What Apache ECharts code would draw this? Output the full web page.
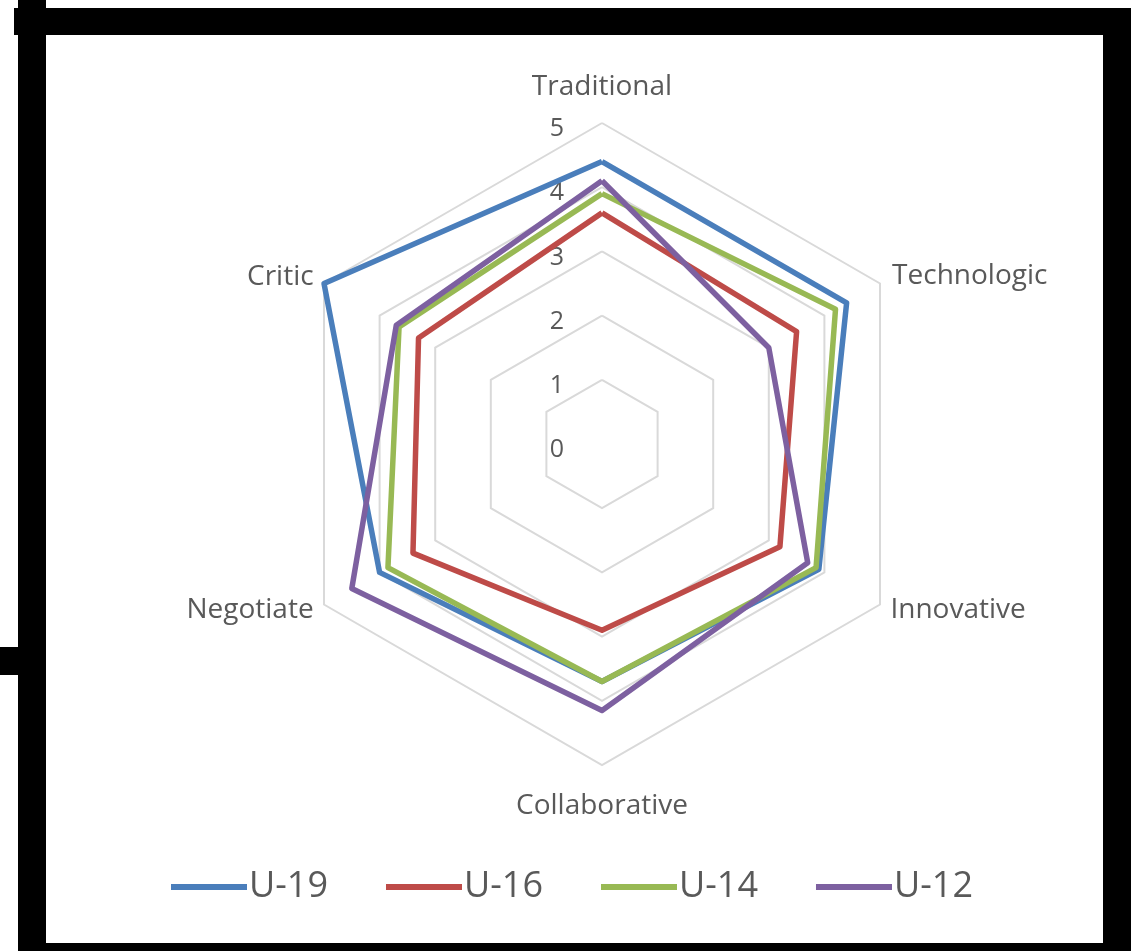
<!DOCTYPE html>
<html>
<head>
    <meta charset="utf-8">
    <script src="https://cdn.jsdelivr.net/npm/echarts@6/dist/echarts.min.js"></script>
    <style>
        body { margin: 0; background: #fff; }
        .frame { position: absolute; background: #000; }
    </style>
</head>

<body>
    <div id="main" style="position:absolute;left:0;top:0;width:1131px;height:951px;"></div>
    <!-- black frame around the pasted chart -->
    <div class="frame" style="left:18px;top:0;width:28px;height:951px;"></div>
    <div class="frame" style="left:14px;top:8px;width:1117px;height:27px;"></div>
    <div class="frame" style="left:1103px;top:8px;width:28px;height:943px;"></div>
    <div class="frame" style="left:18px;top:943px;width:1113px;height:8px;"></div>
    <div class="frame" style="left:0;top:647px;width:20px;height:28px;"></div>
    <script type="text/javascript">
        // axes in echarts order (counter-clockwise from the top)
        var categories = ['Traditional', 'Critic', 'Negotiate', 'Collaborative', 'Innovative', 'Technologic'];
        var ticks = [0, 1, 2, 3, 4, 5];

        var u19 = [4.4, 5.0, 4.0, 3.7, 3.9, 4.4];
        var u16 = [3.6, 3.3, 3.4, 2.9, 3.2, 3.5];
        var u14 = [3.9, 3.65, 3.85, 3.7, 3.85, 4.2];
        var u12 = [4.1, 3.7, 4.5, 4.15, 3.7, 3.0];

        var seriesNames = ['U-19', 'U-16', 'U-14', 'U-12'];
        var colors = ['#4a7ebb', '#be4b48', '#98b954', '#7d60a0'];

        // name gaps: top / bottom labels sit further out
        var gaps = [22, 12, 12, 27, 12, 14];

        var indicator = [];
        for (var i = 0; i < categories.length; i++) {
            var ind = {name: categories[i], max: ticks[ticks.length - 1], min: ticks[0], nameGap: gaps[i]};
            // only the first (top) axis carries the tick labels
            if (i === 0) {
                ind.axisLabel = {show: true};
            }
            indicator.push(ind);
        }

        var allData = [u19, u16, u14, u12];
        var series = [];
        for (var k = 0; k < allData.length; k++) {
            series.push({
                name: seriesNames[k],
                type: 'radar',
                symbol: 'none',
                lineStyle: {color: colors[k], width: 5.5},
                itemStyle: {color: colors[k]},
                data: [{value: allData[k], name: seriesNames[k]}]
            });
        }

        var option = {
            animation: false,
            color: colors,
            legend: {
                data: seriesNames,
                left: 166,
                top: 864,
                icon: 'rect',
                itemWidth: 76,
                itemHeight: 6,
                itemGap: 58,
                textStyle: {
                    fontFamily: 'Open Sans',
                    fontSize: 36,
                    color: '#595959',
                    padding: [0, 0, 0, -3]
                }
            },
            radar: {
                center: [602, 444],
                radius: 321,
                startAngle: 90,
                splitNumber: 5,
                shape: 'polygon',
                indicator: indicator,
                axisName: {
                    fontFamily: 'Open Sans',
                    fontSize: 28,
                    color: '#595959'
                },
                axisLine: {show: false},
                axisTick: {show: false},
                axisLabel: {
                    show: false,
                    margin: 38,
                    fontFamily: 'Open Sans',
                    fontSize: 25,
                    color: '#595959',
                    verticalAlign: 'top',
                    lineHeight: 12
                },
                splitLine: {lineStyle: {color: '#d9d9d9', width: 2}},
                splitArea: {show: false}
            },
            series: series
        };

        var myChart = echarts.init(document.getElementById('main'));
        myChart.setOption(option);
    </script>
</body>

</html>
